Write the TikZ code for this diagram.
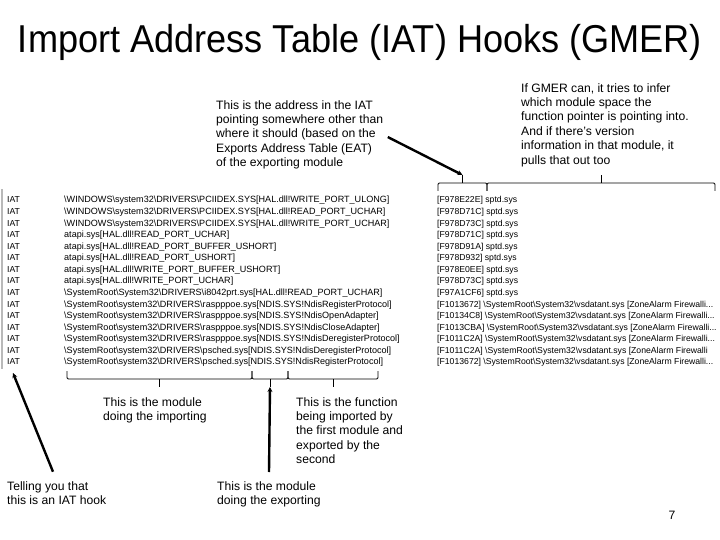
\documentclass[tikz,border=0pt]{standalone}
\usepackage{fontspec}
\setmainfont{Liberation Sans}
\usetikzlibrary{arrows.meta}
\newcommand{\bs}{\textbackslash}
% square brace: x from, x to, y of the bar, end tick (signed), name of middle tip
\newcommand{\sqbrace}[5]{%
  \draw[brace] (#1,{#3+(#4)}) -- (#1,#3) -- (#2,#3) -- (#2,{#3+(#4)});
  \draw[brace] ({(#1+#2)/2},#3) -- ({(#1+#2)/2},{#3-(#4)}) coordinate (#5);}

\begin{document}
\begin{tikzpicture}[
  x=1bp, y=-1bp,
  heading/.style={
    inner sep=0pt,
    anchor=base,
    font=\fontsize{39}{41}\selectfont
  },
  note/.style={
    inner sep=0pt,
    anchor=north west,
    align=left,
    font=\fontsize{12.2}{14.5}\selectfont
  },
  entry/.style={
    inner sep=0pt,
    anchor=base west,
    font=\fontsize{8.7}{10}\selectfont
  },
  brace/.style={line width=0.8bp,rounded corners=1.2bp},
  pointer/.style={-{Stealth[length=5bp,width=5bp]},line width=2.4bp}
]
  \useasboundingbox (0,0) rectangle (720,540);
  \node[heading] (title) at (360,53) {\scalebox{0.93}[1]{Import Address Table (IAT) Hooks (GMER)}};

  % the GMER listing
  \fill[gray!55] (1,189) rectangle (3,369);
  \foreach \imp/\tgt [count=\i from 0] in {
    {\bs WINDOWS\bs system32\bs DRIVERS\bs PCIIDEX.SYS[HAL.dll!WRITE\_PORT\_ULONG]}/{[F978E22E] sptd.sys},
    {\bs WINDOWS\bs system32\bs DRIVERS\bs PCIIDEX.SYS[HAL.dll!READ\_PORT\_UCHAR]}/{[F978D71C] sptd.sys},
    {\bs WINDOWS\bs system32\bs DRIVERS\bs PCIIDEX.SYS[HAL.dll!WRITE\_PORT\_UCHAR]}/{[F978D73C] sptd.sys},
    {atapi.sys[HAL.dll!READ\_PORT\_UCHAR]}/{[F978D71C] sptd.sys},
    {atapi.sys[HAL.dll!READ\_PORT\_BUFFER\_USHORT]}/{[F978D91A] sptd.sys},
    {atapi.sys[HAL.dll!READ\_PORT\_USHORT]}/{[F978D932] sptd.sys},
    {atapi.sys[HAL.dll!WRITE\_PORT\_BUFFER\_USHORT]}/{[F978E0EE] sptd.sys},
    {atapi.sys[HAL.dll!WRITE\_PORT\_UCHAR]}/{[F978D73C] sptd.sys},
    {\bs SystemRoot\bs System32\bs DRIVERS\bs i8042prt.sys[HAL.dll!READ\_PORT\_UCHAR]}/{[F97A1CF6] sptd.sys},
    {\bs SystemRoot\bs system32\bs DRIVERS\bs raspppoe.sys[NDIS.SYS!NdisRegisterProtocol]}/{[F1013672] \bs SystemRoot\bs System32\bs vsdatant.sys [ZoneAlarm Firewalli...},
    {\bs SystemRoot\bs system32\bs DRIVERS\bs raspppoe.sys[NDIS.SYS!NdisOpenAdapter]}/{[F10134C8] \bs SystemRoot\bs System32\bs vsdatant.sys [ZoneAlarm Firewalli...},
    {\bs SystemRoot\bs system32\bs DRIVERS\bs raspppoe.sys[NDIS.SYS!NdisCloseAdapter]}/{[F1013CBA] \bs SystemRoot\bs System32\bs vsdatant.sys [ZoneAlarm Firewalli...},
    {\bs SystemRoot\bs system32\bs DRIVERS\bs raspppoe.sys[NDIS.SYS!NdisDeregisterProtocol]}/{[F1011C2A] \bs SystemRoot\bs System32\bs vsdatant.sys [ZoneAlarm Firewalli...},
    {\bs SystemRoot\bs system32\bs DRIVERS\bs psched.sys[NDIS.SYS!NdisDeregisterProtocol]}/{[F1011C2A] \bs SystemRoot\bs System32\bs vsdatant.sys [ZoneAlarm Firewalli},
    {\bs SystemRoot\bs system32\bs DRIVERS\bs psched.sys[NDIS.SYS!NdisRegisterProtocol]}/{[F1013672] \bs SystemRoot\bs System32\bs vsdatant.sys [ZoneAlarm Firewalli...}}
  {
    \node[entry] (iat\i) at (7,{203+11.57*\i}) {IAT};
    \node[entry,font=\fontsize{9.1}{10}\selectfont] (imp\i) at (64,{203+11.57*\i}) {\imp};
    \node[entry] (tgt\i) at (437,{203+11.57*\i}) {\tgt};
  }

  % braces over and under the columns
  \sqbrace{438}{487}{183}{8}{addrTip}
  \sqbrace{487}{715}{183}{8}{inferTip}
  \sqbrace{67}{252}{379}{-8}{importTip}
  \sqbrace{252}{288}{379}{-8}{exportTip}
  \sqbrace{288}{378}{379}{-8}{funcTip}
  \coordinate (hookTip) at (13,373);

  % notes
  \node[note] (addr) at (216,100) {This is the address in the IAT\\pointing somewhere other than\\where it should (based on the\\Exports Address Table (EAT)\\of the exporting module};
  \node[note] (infer) at (521,83) {If GMER can, it tries to infer\\which module space the\\function pointer is pointing into.\\And if there's version\\information in that module, it\\pulls that out too};
  \node[note] (importer) at (103,397) {This is the module\\doing the importing};
  \node[note] (func) at (296,397) {This is the function\\being imported by\\the first module and\\exported by the\\second};
  \node[note] (hook) at (7,481) {Telling you that\\this is an IAT hook};
  \node[note] (exporter) at (217,481) {This is the module\\doing the exporting};
  \node[font=\fontsize{12.2}{14.5}\selectfont,anchor=base,inner sep=0pt] (page) at (672,519) {7};

  \draw[pointer,shorten <=5bp] (addr.east) -- (addrTip);
  \draw[pointer,shorten <=10bp] (hook.north) -- (hookTip);
  \draw[pointer,shorten <=9bp] (exporter.north) -- (exportTip);
\end{tikzpicture}
\end{document}
